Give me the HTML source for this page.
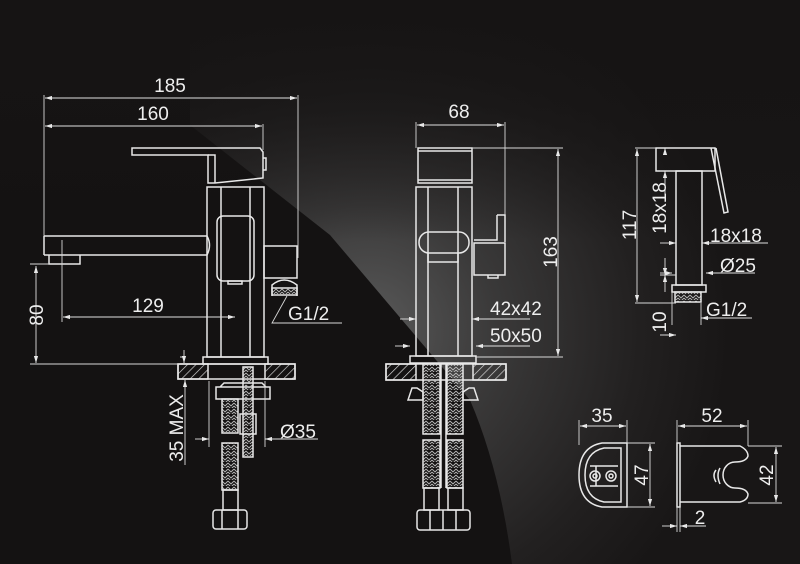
<!DOCTYPE html>
<html><head><meta charset="utf-8"><style>
html,body{margin:0;padding:0;background:#141212;}
svg{display:block}
text{font-family:"Liberation Sans",sans-serif;fill:#eeeeee;}
</style></head><body>
<svg width="800" height="564" viewBox="0 0 800 564" xmlns="http://www.w3.org/2000/svg">
<defs>
<radialGradient id="g" cx="370" cy="330" r="360" gradientUnits="userSpaceOnUse">
<stop offset="0" stop-color="#5a5a5a"/><stop offset="0.35" stop-color="#3a3939"/><stop offset="0.75" stop-color="#222020"/><stop offset="1" stop-color="#181616"/>
</radialGradient>
<linearGradient id="top" x1="0" y1="0" x2="0" y2="240" gradientUnits="userSpaceOnUse">
<stop offset="0" stop-color="#161414" stop-opacity="1"/><stop offset="0.45" stop-color="#161414" stop-opacity="0.7"/><stop offset="1" stop-color="#161414" stop-opacity="0"/>
</linearGradient>
<marker id="a" viewBox="0 0 10 6" refX="10" refY="3" markerWidth="8" markerHeight="5" orient="auto-start-reverse"><path d="M0 0L10 3L0 6z" fill="#e8e8e8"/></marker>
<pattern id="h" width="6" height="6" patternUnits="userSpaceOnUse" patternTransform="rotate(45)"><line x1="0" y1="0" x2="0" y2="6" stroke="#ddd" stroke-width="1.3"/></pattern>
<pattern id="br" width="6" height="6" patternUnits="userSpaceOnUse"><path d="M0 1L3 4L6 1M0 4L3 7L6 4" stroke="#bbb" stroke-width="0.9" fill="none"/></pattern>
</defs>
<rect width="800" height="564" fill="#141212"/>
<path d="M190 125 L330 235 L470 400 Q500 470 512 564 L800 564 L800 0 L190 0 Z" fill="url(#g)"/>
<rect width="800" height="240" fill="url(#top)"/>

<g fill="none" stroke="#e8e8e8" stroke-width="1.5">
<path d="M132 148 H260 L263 152 V178 L215 183 H208 V155 H132 Z"/>
<path d="M208 155 H215 V183"/>
<path d="M263 158 h3 v12 h-3"/>
<rect x="207" y="187" width="57" height="170"/>
<path d="M221 187 V357 M250 187 V357"/>
<rect x="217" y="216" width="37" height="65" rx="6"/>
<path d="M228 281 h14 v3 h-14z"/>
<path d="M44 236 H207 M44 255 H207 M44 236 V255 M207 236 q5 9 0 19"/>
<path d="M49 255 V264 H80 V255"/>
<rect x="264" y="246" width="33" height="32"/>
<path d="M272 296 V285 q12 -10 25 0 V296"/>
<rect x="272" y="288" width="25" height="7" fill="url(#br)"/>
<rect x="203" y="357" width="65" height="7"/>
<rect x="178" y="364" width="117" height="15"/>
<rect x="178" y="364" width="30" height="15" fill="url(#h)"/>
<rect x="265" y="364" width="30" height="15" fill="url(#h)"/>
<path d="M216 387 H270 V399 H216 Z M220 387 l4 -4 h38 l4 4"/>
<rect x="222" y="399" width="16" height="34" fill="url(#br)"/>
<rect x="222" y="443" width="16" height="47" fill="url(#br)"/>
<rect x="243" y="367" width="10" height="90" fill="url(#br)"/>
<rect x="240" y="414" width="16" height="20"/>
<rect x="223" y="490" width="15" height="20"/>
<rect x="213" y="510" width="34" height="19" rx="3"/>
<path d="M222 510 V529 M238 510 V529"/>
<rect x="418" y="148" width="54" height="35"/>
<path d="M418 151 H472 M418 180 H472"/>
<rect x="416" y="187" width="56" height="169"/>
<path d="M428 187 V356 M458 187 V356"/>
<rect x="419" y="232" width="50" height="21" rx="10"/>
<path d="M428 253 V262 H458 V253"/>
<path d="M497 215 H505 V242 M497 215 V240 H474 M474 243 H505 V275 H474 Z M488 275 v3 h10 v-3"/>
<rect x="410" y="356" width="66" height="7"/>
<rect x="386" y="364" width="120" height="16"/>
<rect x="386" y="364" width="30" height="16" fill="url(#h)"/>
<rect x="473" y="364" width="33" height="16" fill="url(#h)"/>
<rect x="423" y="364" width="17" height="70" fill="url(#br)"/>
<rect x="447" y="364" width="16" height="70" fill="url(#br)"/>
<rect x="423" y="440" width="17" height="48" fill="url(#br)"/>
<rect x="447" y="440" width="16" height="48" fill="url(#br)"/>
<path d="M441 364 V488 M446 364 V488"/>
<path d="M408 400 h15 v-8 l-6 -4 h-5 z M478 400 h-15 v-8 l6 -4 h5 z"/>
<rect x="424" y="488" width="15" height="22"/><rect x="448" y="488" width="15" height="22"/>
<rect x="417" y="510" width="53" height="20" rx="3"/>
<path d="M430 510 V530 M443 510 V530 M456 510 V530"/>
<rect x="656" y="148" width="59" height="23"/>
<rect x="676" y="171" width="26" height="114"/>
<rect x="672" y="285" width="34" height="7"/>
<rect x="675" y="292" width="26" height="10" fill="url(#br)"/>
<path d="M711 148 L724 213 L728 212 L716 148"/>
<path d="M627 443 H602 Q579 447 579 475 Q579 503 602 507 H627 Z"/>
<path d="M621 448 H604 Q585 452 585 475 Q585 498 604 502 H621 Z"/>
<path d="M590 466 H618 M590 486 H618 M596 466 V486"/>
<circle cx="595" cy="476" r="5"/><circle cx="611" cy="476" r="5"/>
<circle cx="595" cy="476" r="2"/><circle cx="611" cy="476" r="2"/>
<rect x="677" y="443" width="3" height="64"/>
<path d="M680 446 H740 q8 4 8 10 q-2 6 -13 6 a12 13 0 1 0 0 26 q11 0 13 6 q0 6 -8 8 H680"/>
<path d="M716 470 q-4 5 0 12 M720 468 q-4 7 0 16"/>
</g>

<g fill="none" stroke="#d8d8d8" stroke-width="0.9">
<path d="M44 95 V236 M298 95 V258 M263 124 V150 M62 240 V322 M30 264 H49 M30 364 H180"/>
<path d="M287 296 L272 323 H342"/>
<path d="M209 381 V447 M265 381 V447 M180 357 H184"/>
<path d="M416 122 V148 M505 122 V215 M472 148 H563 M476 357 H563"/>
<path d="M635 148 H656 M635 303 H676 M660 275 H676 M660 335 H672 M672 292 V325 M701 303 V325"/>
<path d="M579 420 V445 M627 420 V443 M627 443 H655 M627 507 H655 M677 420 V443 M748 420 V446 M748 446 H782 M748 503 H782 M677 507 V532 M680 507 V532"/>
<path d="M660 171 H676"/>
</g>
<g fill="none" stroke="#e0e0e0" stroke-width="0.9" marker-start="url(#a)" marker-end="url(#a)">
<line x1="45" y1="98" x2="297" y2="98"/>
<line x1="45" y1="126" x2="262" y2="126"/>
<line x1="63" y1="317" x2="235" y2="317"/>
<line x1="36" y1="266" x2="36" y2="363"/>
<line x1="417" y1="125" x2="504" y2="125"/>
<line x1="558" y1="149" x2="558" y2="356"/>
<line x1="637" y1="149" x2="637" y2="302"/>
<line x1="580" y1="426" x2="626" y2="426"/>
<line x1="678" y1="426" x2="747" y2="426"/>
<line x1="650" y1="444" x2="650" y2="506"/>
<line x1="776" y1="447" x2="776" y2="502"/>
</g>
<g fill="none" stroke="#e0e0e0" stroke-width="0.9" marker-end="url(#a)">
<path d="M195 439 H209"/><path d="M318 439 H265"/>
<path d="M400 319 H416"/><path d="M530 319 H472"/>
<path d="M395 346 H410"/><path d="M530 346 H476"/>
<path d="M660 243 H676"/><path d="M768 243 H702"/>
<path d="M660 273 H672"/><path d="M755 273 H706"/>
<path d="M665 335 H676"/><path d="M752 318 H701"/>
<path d="M665 195 V171"/><path d="M665 150 V148"/>
<path d="M665 258 V275"/><path d="M665 292 V275"/>
<path d="M662 526 H677"/><path d="M706 526 H680"/>
<path d="M185 465 V380"/><path d="M184 350 V363"/>
</g>

<g font-size="19">
<text x="170" y="92" text-anchor="middle">185</text>
<text x="153" y="120" text-anchor="middle">160</text>
<text x="148" y="312" text-anchor="middle">129</text>
<text x="288" y="320">G1/2</text>
<text transform="translate(43,315) rotate(-90)" text-anchor="middle">80</text>
<text x="280" y="438">Ø35</text>
<text transform="translate(183,428) rotate(-90)" text-anchor="middle">35 MAX</text>
<text x="459" y="118" text-anchor="middle">68</text>
<text x="490" y="315">42x42</text>
<text x="490" y="342">50x50</text>
<text transform="translate(557,252) rotate(-90)" text-anchor="middle">163</text>
<text transform="translate(636,225) rotate(-90)" text-anchor="middle">117</text>
<text transform="translate(666,208) rotate(-90)" text-anchor="middle">18x18</text>
<text x="710" y="242">18x18</text>
<text x="720" y="272">Ø25</text>
<text transform="translate(666,322) rotate(-90)" text-anchor="middle">10</text>
<text x="706" y="316">G1/2</text>
<text x="602" y="422" text-anchor="middle">35</text>
<text x="712" y="422" text-anchor="middle">52</text>
<text transform="translate(648,475) rotate(-90)" text-anchor="middle">47</text>
<text transform="translate(773,475) rotate(-90)" text-anchor="middle">42</text>
<text x="700" y="524" text-anchor="middle">2</text>
</g>
</svg>
</body></html>
